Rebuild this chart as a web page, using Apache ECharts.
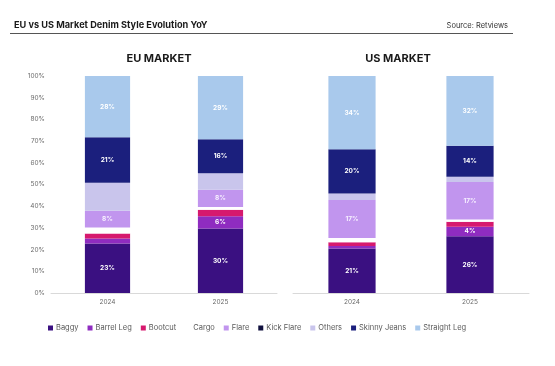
<!DOCTYPE html>
<html><head><meta charset="utf-8">
<script src="https://cdn.jsdelivr.net/npm/echarts@6/dist/echarts.min.js"></script>
<style>html,body{margin:0;padding:0;background:#fff}#c{width:555px;height:366px}</style>
</head><body><div id="c"></div>
<script>
const years = ['2024', '2025'];
const styles = ['Baggy', 'Barrel Leg', 'Bootcut', 'Cargo', 'Flare', 'Kick Flare', 'Others', 'Skinny Jeans', 'Straight Leg'];
const yTicks = [0, 10, 20, 30, 40, 50, 60, 70, 80, 90, 100];
// EU market shares (%) per style, [2024, 2025]
const euBaggy = [22.8, 29.7];
const euBarrelLeg = [2.3, 5.7];
const euBootcut = [2.3, 3.0];
const euCargo = [2.8, 1.2];
const euFlare = [7.7, 8.0];
const euKickFlare = [0, 0];
const euOthers = [12.9, 7.6];
const euSkinny = [21.0, 15.7];
const euStraight = [28.2, 29.1];
// US market shares (%) per style, [2024, 2025]
const usBaggy = [20.5, 26.2];
const usBarrelLeg = [1.2, 4.3];
const usBootcut = [1.7, 2.3];
const usCargo = [2.0, 1.1];
const usFlare = [17.4, 17.2];
const usKickFlare = [0, 0];
const usOthers = [3.1, 2.5];
const usSkinny = [20.3, 14.2];
const usStraight = [33.8, 32.3];

const euData = [euBaggy, euBarrelLeg, euBootcut, euCargo, euFlare, euKickFlare, euOthers, euSkinny, euStraight];
const usData = [usBaggy, usBarrelLeg, usBootcut, usCargo, usFlare, usKickFlare, usOthers, usSkinny, usStraight];

const colors = ['#3a1081', '#8f2cc0', '#d6196e', '#ffffff', '#c195ee', '#10103e', '#c9c5ec', '#1b1f7d', '#a9c9ec'];
const labelled = [true, true, false, false, true, false, false, true, true];
const labelColors = ['#ffffff', '#ffffff', '#ffffff', '#ffffff', '#f7f0ff', '#ffffff', '#ffffff', '#ffffff', '#ffffff'];
const font = 'Inter, "Noto Sans", sans-serif';

function mkSeries(data, gi, stackName) {
  return styles.map((name, i) => ({
    name: name,
    type: 'bar',
    stack: stackName,
    xAxisIndex: gi,
    yAxisIndex: gi,
    barWidth: '40%',
    data: data[i],
    itemStyle: { color: colors[i] },
    label: {
      show: labelled[i],
      position: 'inside',
      fontSize: 6.5,
      fontWeight: 'bold',
      fontFamily: font,
      color: labelColors[i],
      formatter: p => (p.value >= 4 ? Math.round(p.value) + '%' : '')
    },
    emphasis: { disabled: true }
  }));
}

const chart = echarts.init(document.getElementById('c'), null, { renderer: 'canvas' });
const axisLabelStyle = { fontSize: 6.5, color: '#6b6b6b', fontFamily: font };
chart.setOption({
  animation: false,
  backgroundColor: '#ffffff',
  title: [
    { text: 'EU vs US Market Denim Style Evolution YoY', left: 9, top: 16, textStyle: { fontSize: 9.2, fontWeight: 'bold', color: '#1a1a1a', fontFamily: font } },
    { text: 'Source: Retviews', right: 42, top: 17, textStyle: { fontSize: 7.5, fontWeight: 'normal', color: '#333333', fontFamily: font } },
    { text: 'EU MARKET', left: 154, textAlign: 'center', top: 48, textStyle: { fontSize: 11, fontWeight: 'bold', color: '#1a1a1a', fontFamily: font } },
    { text: 'US MARKET', left: 393, textAlign: 'center', top: 48, textStyle: { fontSize: 11, fontWeight: 'bold', color: '#1a1a1a', fontFamily: font } }
  ],
  graphic: [
    { type: 'line', shape: { x1: 10, y1: 33.5, x2: 513, y2: 33.5 }, style: { stroke: '#555555', lineWidth: 1 } }
  ],
  legend: {
    data: styles,
    left: 43,
    top: 319,
    itemWidth: 5,
    itemHeight: 5,
    itemGap: 9,
    icon: 'rect',
    textStyle: { fontSize: 7.5, color: '#595959', fontFamily: font, padding: [0, 0, 0, -2] },
    selectedMode: false
  },
  grid: [
    { left: 51, top: 76, width: 226, height: 217 },
    { left: 293, top: 76, width: 236, height: 217 }
  ],
  xAxis: [0, 1].map(i => ({
    type: 'category', gridIndex: i, data: years,
    axisLine: { lineStyle: { color: '#d9d9d9' } },
    axisTick: { show: false },
    axisLabel: Object.assign({ margin: 6 }, axisLabelStyle)
  })),
  yAxis: [0, 1].map(i => ({
    type: 'value', gridIndex: i, min: yTicks[0], max: yTicks[yTicks.length - 1], interval: 10,
    axisLine: { show: false }, axisTick: { show: false },
    splitLine: { show: false },
    axisLabel: Object.assign({ show: i === 0, margin: 6, formatter: v => v + '%' }, axisLabelStyle)
  })),
  series: mkSeries(euData, 0, 'eu').concat(mkSeries(usData, 1, 'us'))
});
</script></body></html>
